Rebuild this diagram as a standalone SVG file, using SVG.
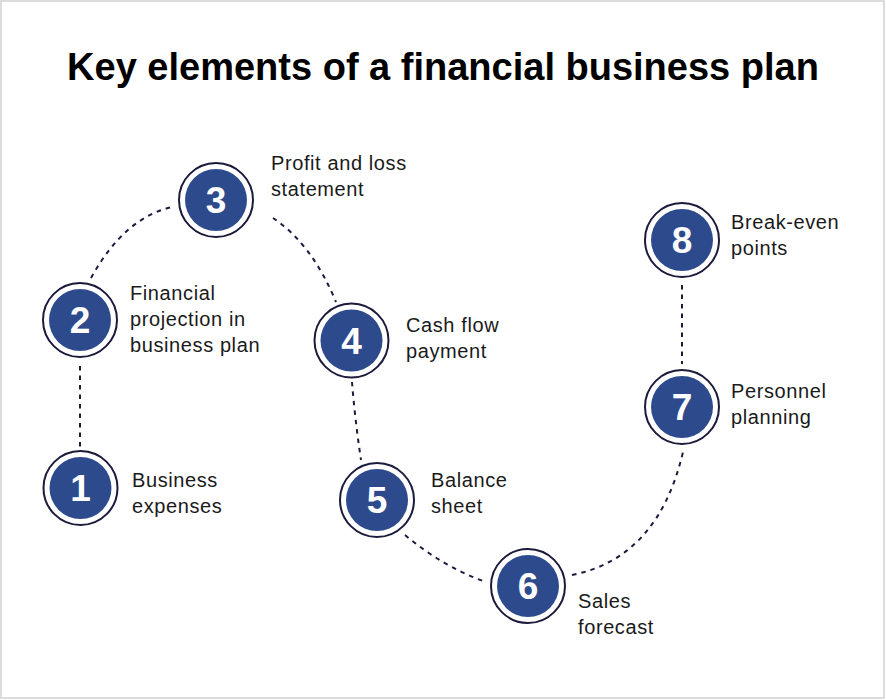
<svg xmlns="http://www.w3.org/2000/svg" width="886" height="700" viewBox="0 0 886 700">
<style>
.ring{fill:#ffffff;stroke:#1d1b3c;stroke-width:2}
.core{fill:#2d4a8d}
.num{font-family:"Liberation Sans",Arial,sans-serif;font-weight:bold;font-size:37px;fill:#ffffff;text-anchor:middle}
.lbl{font-family:"Liberation Sans",Arial,sans-serif;font-size:20px;fill:#1a1a1a;letter-spacing:0.6px}
.title{font-family:"Liberation Sans",Arial,sans-serif;font-weight:bold;font-size:38px;fill:#000000;text-anchor:middle}
.conn{fill:none;stroke:#1d1b3c;stroke-width:2;stroke-dasharray:4.5 5}
</style>
<rect x="0" y="0" width="886" height="700" fill="#ffffff"/>
<rect x="1" y="1" width="883" height="697" fill="none" stroke="#dcdcdc" stroke-width="2"/>
<text class="title" x="443" y="80">Key elements of a financial business plan</text>
<g id="connectors">
<path class="conn" d="M80,366 L80,448"/>
<path class="conn" d="M91,278 Q124,218 172,207"/>
<path class="conn" d="M273,218 Q312,244 336,302"/>
<path class="conn" d="M352,382 Q355,420 361,460"/>
<path class="conn" d="M405,535 Q442,566 483,581"/>
<path class="conn" d="M572,575 Q658,558 683,452"/>
<path class="conn" d="M682,285 L682,364"/>
</g>
<g id="node1"><circle class="ring" cx="80.5" cy="488" r="37"/><circle class="core" cx="80.5" cy="488" r="31"/><text class="num" x="80.5" y="501">1</text><text class="lbl" x="132" y="487">Business</text><text class="lbl" x="132" y="513">expenses</text></g>
<g id="node2"><circle class="ring" cx="80" cy="320" r="37"/><circle class="core" cx="80" cy="320" r="31"/><text class="num" x="80" y="333">2</text><text class="lbl" x="130" y="300">Financial</text><text class="lbl" x="130" y="326">projection in</text><text class="lbl" x="130" y="352">business plan</text></g>
<g id="node3"><circle class="ring" cx="216" cy="200" r="37"/><circle class="core" cx="216" cy="200" r="31"/><text class="num" x="216" y="213">3</text><text class="lbl" x="271" y="170">Profit and loss</text><text class="lbl" x="271" y="196">statement</text></g>
<g id="node4"><circle class="ring" cx="351.5" cy="340.5" r="37"/><circle class="core" cx="351.5" cy="340.5" r="31"/><text class="num" x="351.5" y="353.5">4</text><text class="lbl" x="406" y="332">Cash flow</text><text class="lbl" x="406" y="358">payment</text></g>
<g id="node5"><circle class="ring" cx="377" cy="500" r="37"/><circle class="core" cx="377" cy="500" r="31"/><text class="num" x="377" y="513">5</text><text class="lbl" x="431" y="487">Balance</text><text class="lbl" x="431" y="513">sheet</text></g>
<g id="node6"><circle class="ring" cx="528" cy="586" r="37"/><circle class="core" cx="528" cy="586" r="31"/><text class="num" x="528" y="599">6</text><text class="lbl" x="578" y="608">Sales</text><text class="lbl" x="578" y="634">forecast</text></g>
<g id="node7"><circle class="ring" cx="682" cy="407" r="37"/><circle class="core" cx="682" cy="407" r="31"/><text class="num" x="682" y="420">7</text><text class="lbl" x="731" y="398">Personnel</text><text class="lbl" x="731" y="424">planning</text></g>
<g id="node8"><circle class="ring" cx="682" cy="240" r="37"/><circle class="core" cx="682" cy="240" r="31"/><text class="num" x="682" y="253">8</text><text class="lbl" x="731" y="229">Break-even</text><text class="lbl" x="731" y="255">points</text></g>
</svg>
